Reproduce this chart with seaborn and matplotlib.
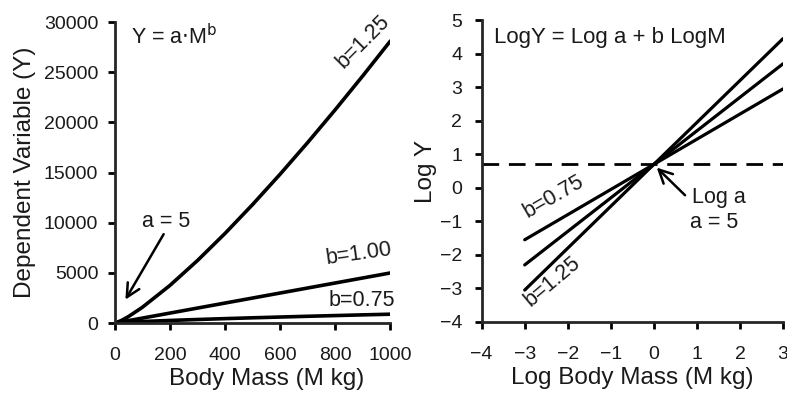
import matplotlib
matplotlib.use("Agg")
import matplotlib.pyplot as plt
import seaborn as sns
import pandas as pd

# ---- data: left panel (Y = a*M^b, a = 5) ----
mass = [0, 25, 50, 100, 200, 300, 400, 500, 600, 700, 800, 900, 1000]
y_b075 = [0, 56, 94, 158, 266, 360, 447, 529, 606, 681, 752, 822, 889]
y_b100 = [0, 125, 250, 500, 1000, 1500, 2000, 2500, 3000, 3500, 4000, 4500, 5000]
y_b125 = [0, 280, 665, 1581, 3761, 6243, 8944, 11822, 14848, 18003, 21273, 24647, 28117]

# ---- data: right panel (log form) ----
log_mass = [-3, 3]
logy_b075 = [-1.55, 2.95]
logy_b100 = [-2.30, 3.70]
logy_b125 = [-3.05, 4.45]
log_a = 0.70

left_xticks = [0, 200, 400, 600, 800, 1000]
left_yticks = [0, 5000, 10000, 15000, 20000, 25000, 30000]
right_xticks = [-4, -3, -2, -1, 0, 1, 2, 3]
right_yticks = [-4, -3, -2, -1, 0, 1, 2, 3, 4, 5]

sns.set_style("ticks")
plt.rcParams["font.family"] = ["Liberation Sans", "DejaVu Sans"]
plt.rcParams["axes.linewidth"] = 2
plt.rcParams["xtick.major.width"] = 2
plt.rcParams["ytick.major.width"] = 2
plt.rcParams["xtick.major.size"] = 5
plt.rcParams["ytick.major.size"] = 5
plt.rcParams["xtick.direction"] = "out"
plt.rcParams["ytick.direction"] = "out"

fig = plt.figure(figsize=(7.87, 3.95), dpi=100)
ax1 = fig.add_axes([0.146, 0.182, 0.350, 0.762])
ax2 = fig.add_axes([0.612, 0.185, 0.383, 0.764])

TXT = "#1a1a1a"
LW = 2.6
TICK_FS = 14
LAB_FS = 17.5
ANN_FS = 15.5

left_df = pd.DataFrame({
    "M": mass * 3,
    "Y": y_b075 + y_b100 + y_b125,
    "b": ["0.75"] * len(mass) + ["1.00"] * len(mass) + ["1.25"] * len(mass),
})
sns.lineplot(data=left_df, x="M", y="Y", units="b", estimator=None,
             color="black", linewidth=LW, ax=ax1)

ax1.set_xlim(0, 1000)
ax1.set_ylim(0, 30000)
ax1.set_xticks(left_xticks)
ax1.set_yticks(left_yticks)
ax1.tick_params(labelsize=TICK_FS, colors="black", labelcolor=TXT)
ax1.tick_params(axis="x", pad=12)
ax1.tick_params(axis="y", pad=7)
ax1.set_xlabel("Body Mass (M kg)", fontsize=LAB_FS, color=TXT, labelpad=3)
ax1.xaxis.label.set_x(0.55)
ax1.set_ylabel("Dependent Variable (Y)", fontsize=LAB_FS, color=TXT, labelpad=6)
sns.despine(ax=ax1)

ax1.text(58, 28600, r"Y = a$\cdot$M$^{\mathrm{b}}$", fontsize=ANN_FS, color=TXT, va="center", ha="left")
ax1.text(900, 28000, "b=1.25", fontsize=ANN_FS, color=TXT, rotation=45, ha="center", va="center")
ax1.text(885, 6850, "b=1.00", fontsize=ANN_FS, color=TXT, rotation=8, ha="center", va="center")
ax1.text(895, 2250, "b=0.75", fontsize=ANN_FS, color=TXT, ha="center", va="center")
ax1.text(185, 10100, "a = 5", fontsize=ANN_FS, color=TXT, ha="center", va="center")
ax1.annotate("", xy=(33, 2100), xytext=(182, 9100),
             arrowprops=dict(arrowstyle="->", color="black", lw=1.8, mutation_scale=24))

right_df = pd.DataFrame({
    "logM": log_mass * 3,
    "logY": logy_b075 + logy_b100 + logy_b125,
    "b": ["0.75"] * 2 + ["1.00"] * 2 + ["1.25"] * 2,
})
sns.lineplot(data=right_df, x="logM", y="logY", units="b", estimator=None,
             color="black", linewidth=LW - 0.3, ax=ax2)
ax2.axhline(log_a, color="black", linewidth=2, linestyle=(0, (6, 3.5)))

ax2.set_xlim(-4, 3)
ax2.set_ylim(-4, 5)
ax2.set_xticks(right_xticks)
ax2.set_yticks(right_yticks)
ax2.tick_params(labelsize=TICK_FS, colors="black", labelcolor=TXT)
ax2.tick_params(axis="x", pad=12)
ax2.tick_params(axis="y", pad=9)
ax2.set_xlabel("Log Body Mass (M kg)", fontsize=LAB_FS, color=TXT, labelpad=3)
ax2.set_ylabel("Log Y", fontsize=LAB_FS, color=TXT, labelpad=2)
sns.despine(ax=ax2)

ax2.text(-3.72, 4.49, "LogY = Log a + b LogM", fontsize=16, color=TXT, va="center", ha="left")
ax2.text(-2.33, -0.27, "b=0.75", fontsize=ANN_FS, color=TXT, rotation=30, ha="center", va="center")
ax2.text(-2.35, -2.8, "b=1.25", fontsize=ANN_FS, color=TXT, rotation=40, ha="center", va="center")
ax2.text(0.88, -0.30, "Log a", fontsize=ANN_FS, color=TXT, ha="left", va="center")
ax2.text(0.85, -1.02, "a = 5", fontsize=ANN_FS, color=TXT, ha="left", va="center")
ax2.annotate("", xy=(0.02, 0.66), xytext=(0.77, -0.28),
             arrowprops=dict(arrowstyle="->", color="black", lw=1.8, mutation_scale=24))

fig.savefig("out.png", dpi=100)
